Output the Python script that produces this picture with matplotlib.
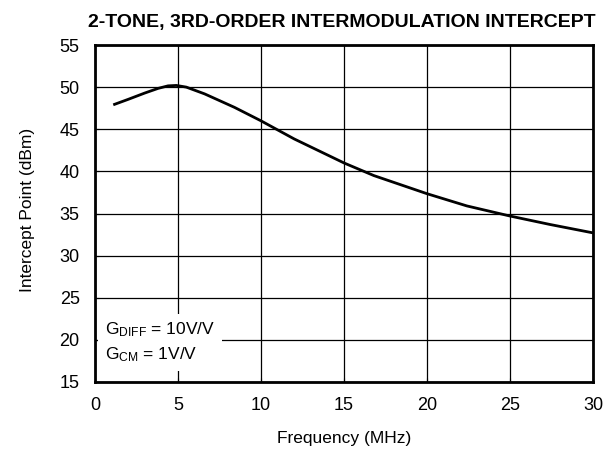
import matplotlib
matplotlib.use("Agg")
import matplotlib.pyplot as plt
import numpy as np

plt.rcParams['font.family'] = ['Liberation Sans', 'DejaVu Sans']
plt.rcParams['mathtext.fontset'] = 'custom'
plt.rcParams['mathtext.rm'] = 'Liberation Sans'

freq = [1.1, 2.0, 3.0, 3.8, 4.4, 4.9, 5.5, 6.6, 8.4, 10.0, 12.0, 15.0, 16.8, 20.0, 22.4, 25.0, 27.4, 30.0]
ip = [47.9, 48.55, 49.3, 49.85, 50.15, 50.2, 50.0, 49.2, 47.6, 46.0, 43.85, 41.0, 39.5, 37.35, 35.9, 34.7, 33.7, 32.7]

xticks = [0, 5, 10, 15, 20, 25, 30]
yticks = [15, 20, 25, 30, 35, 40, 45, 50, 55]

fig = plt.figure(figsize=(6.16, 4.51), dpi=100)
ax = fig.add_axes([95/616, 1-382/451, (593-95)/616, (382-45)/451])

ax.plot(freq, ip, color='black', lw=2.0, solid_capstyle='butt', solid_joinstyle='round')
ax.set_xlim(0, 30)
ax.set_ylim(15, 55)
ax.set_xticks(xticks)
ax.set_yticks(yticks)
ax.grid(True, color='black', lw=0.9)
ax.set_axisbelow(True)
for s in ax.spines.values():
    s.set_linewidth(2)
ax.tick_params(direction='in', length=3, width=0.8, labelsize=13, pad=11)

fig.text(344/616, 1-438/451, 'Frequency (MHz)', fontsize=12.5, ha='center', va='center')
fig.text(28/616, 1-210/451, 'Intercept Point (dBm)', fontsize=12.5, ha='center', va='center',
         rotation=90)

ax.text(0.6, 19.7, '$\\mathregular{G_{DIFF}}$ = 10V/V\n$\\mathregular{G_{CM}}$ = 1V/V',
        fontsize=12.5, ha='left', va='center', linespacing=1.45,
        bbox=dict(facecolor='white', edgecolor='none', pad=5), zorder=5)

fig.text(88/616, 1-23/451, '2-TONE, 3RD-ORDER INTERMODULATION INTERCEPT',
         fontsize=14, fontweight='bold', ha='left', va='center')

fig.savefig('out.png', dpi=100)
